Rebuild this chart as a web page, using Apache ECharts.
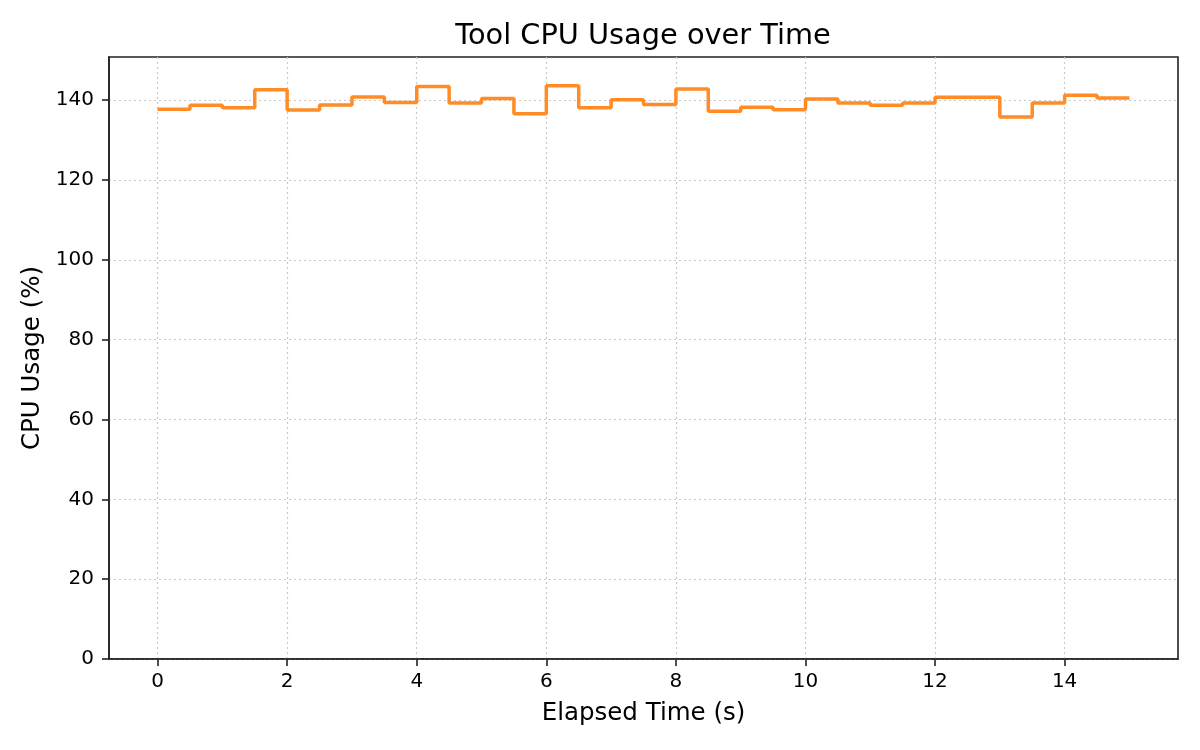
<!DOCTYPE html>
<html>
<head>
<meta charset="utf-8">
<script src="https://cdn.jsdelivr.net/npm/echarts@6/dist/echarts.min.js"></script>
<style>html,body{margin:0;padding:0;background:#fff;}#c{width:1200px;height:750px;}</style>
</head>
<body>
<div id="c"></div>
<script>
const times = [0,0.5,1,1.5,2,2.5,3,3.5,4,4.5,5,5.5,6,6.5,7,7.5,8,8.5,9,9.5,10,10.5,11,11.5,12,12.5,13,13.5,14,14.5,15];
const cpu = [137.7,138.7,138.1,142.6,137.5,138.8,140.8,139.4,143.4,139.3,140.4,136.6,143.6,138.1,140.1,138.9,142.8,137.2,138.2,137.6,140.3,139.3,138.7,139.3,140.7,140.7,135.8,139.3,141.2,140.5,140.5];
const xTicks = [0,2,4,6,8,10,12,14];
const yTicks = [0,20,40,60,80,100,120,140];

const font = 'DejaVu Sans';
const axisColor = '#222';
const chart = echarts.init(document.getElementById('c'), null, {renderer:'canvas'});
chart.setOption({
  animation:false,
  backgroundColor:'#fff',
  title:{text:'Tool CPU Usage over Time',left:638,top:17,textAlign:'center',padding:[5,5,5,5],
    textStyle:{fontFamily:font,fontSize:28.8,fontWeight:'normal',color:'#000'}},
  grid:{left:109,right:22,top:57,bottom:91,show:true,borderColor:axisColor,borderWidth:1.6,backgroundColor:'transparent'},
  xAxis:{type:'value',min:-0.75,max:15.75,
    name:'Elapsed Time (s)',nameLocation:'middle',nameGap:42,
    nameTextStyle:{fontFamily:font,fontSize:24.5,color:'#000'},
    axisLine:{show:true,onZero:false,lineStyle:{color:axisColor,width:1.6}},
    axisTick:{show:true,inside:false,length:7,customValues:xTicks,lineStyle:{color:axisColor,width:1.6}},
    axisLabel:{customValues:xTicks,margin:13,fontFamily:font,fontSize:20,color:'#000'},
    splitLine:{show:true,lineStyle:{color:'#c8c8c8',type:[2,3],width:1.2}}
  },
  yAxis:{type:'value',min:0,max:150.8,
    name:'CPU Usage (%)',nameLocation:'middle',nameGap:62,nameRotate:90,
    nameTextStyle:{fontFamily:font,fontSize:24.5,color:'#000'},
    axisLine:{show:true,onZero:false,lineStyle:{color:axisColor,width:1.6}},
    axisTick:{show:true,inside:false,length:7,customValues:yTicks,lineStyle:{color:axisColor,width:1.6}},
    axisLabel:{customValues:yTicks,margin:15,fontFamily:font,fontSize:20,color:'#000'},
    splitLine:{show:true,lineStyle:{color:'#c8c8c8',type:[2,3],width:1.2}}
  },
  series:[{type:'line',step:'end',showSymbol:false,
    data:times.map((t,i)=>[t,cpu[i]]),
    lineStyle:{color:'#ff8c26',width:3.5},itemStyle:{color:'#ff8c26'}}]
});
</script>
</body>
</html>
